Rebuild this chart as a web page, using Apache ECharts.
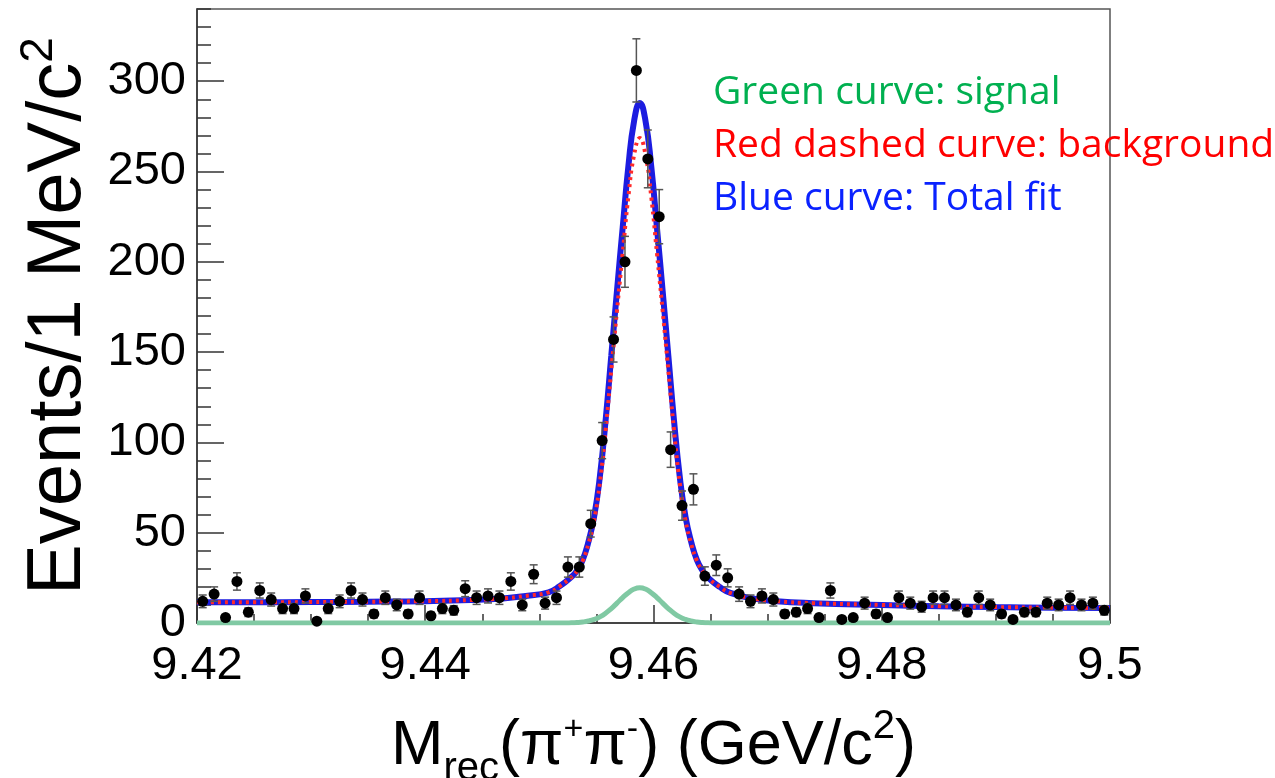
<!DOCTYPE html>
<html>
<head>
<meta charset="utf-8">
<script src="https://cdn.jsdelivr.net/npm/echarts@6/dist/echarts.min.js"></script>
<style>
  html, body { margin: 0; padding: 0; background: #fff; }
  #main { width: 1275px; height: 778px; }
</style>
</head>
<body>
<div id="main"></div>
<script>
// histogram bins (1 MeV wide), bin centres in GeV/c^2
var massBins = [
  9.4205, 9.4215, 9.4225, 9.4235, 9.4245, 9.4255, 9.4265, 9.4275, 9.4285, 9.4295,
  9.4305, 9.4315, 9.4325, 9.4335, 9.4345, 9.4355, 9.4365, 9.4375, 9.4385, 9.4395,
  9.4405, 9.4415, 9.4425, 9.4435, 9.4445, 9.4455, 9.4465, 9.4475, 9.4485, 9.4495,
  9.4505, 9.4515, 9.4525, 9.4535, 9.4545, 9.4555, 9.4565, 9.4575, 9.4585, 9.4595,
  9.4605, 9.4615, 9.4625, 9.4635, 9.4645, 9.4655, 9.4665, 9.4675, 9.4685, 9.4695,
  9.4705, 9.4715, 9.4725, 9.4735, 9.4745, 9.4755, 9.4765, 9.4775, 9.4785, 9.4795,
  9.4805, 9.4815, 9.4825, 9.4835, 9.4845, 9.4855, 9.4865, 9.4875, 9.4885, 9.4895,
  9.4905, 9.4915, 9.4925, 9.4935, 9.4945, 9.4955, 9.4965, 9.4975, 9.4985, 9.4995
];
var counts = [
  12, 16, 3, 23, 6, 18, 13, 8, 8, 15,
  1, 8, 12, 18, 13, 5, 14, 10, 5, 14,
  4, 8, 7, 19, 14, 15, 14, 23, 10, 27,
  11, 14, 31, 31, 55, 101, 157, 200, 306, 257,
  225, 96, 65, 74, 26, 32, 25, 16, 12, 15,
  13, 5, 6, 8, 3, 18, 2, 3, 11, 5,
  3, 14, 11, 9, 14, 14, 10, 6, 14, 10,
  5, 2, 6, 6, 11, 10, 14, 10, 11, 7
];
var errors = [
  3.5, 4, 1.7, 4.8, 2.4, 4.2, 3.6, 2.8, 2.8, 3.9,
  1, 2.8, 3.5, 4.2, 3.6, 2.2, 3.7, 3.2, 2.2, 3.7,
  2, 2.8, 2.6, 4.4, 3.7, 3.9, 3.7, 4.8, 3.2, 5.2,
  3.3, 3.7, 5.6, 5.6, 7.4, 10, 12.5, 14.1, 17.5, 16,
  15, 9.8, 8.1, 8.6, 5.1, 5.7, 5, 4, 3.5, 3.9,
  3.6, 2.2, 2.4, 2.8, 1.7, 4.2, 1.4, 1.7, 3.3, 2.2,
  1.7, 3.7, 3.3, 3, 3.7, 3.7, 3.2, 2.4, 3.7, 3.2,
  2.2, 1.4, 2.4, 2.4, 3.3, 3.2, 3.7, 3.2, 3.3, 2.6
];

// fit curves
var fitMass = [
  9.420, 9.425, 9.430, 9.435, 9.440, 9.4440, 9.4468, 9.4488, 9.4508, 9.4518,
  9.4528, 9.4533, 9.4538, 9.4543, 9.4548, 9.4553, 9.4558, 9.4563, 9.4568, 9.4573,
  9.4578, 9.4583, 9.4588, 9.4593, 9.4598, 9.4603, 9.4608, 9.4613, 9.4618, 9.4623,
  9.4628, 9.4633, 9.4638, 9.4643, 9.4648, 9.4658, 9.4668, 9.4688, 9.4708, 9.474,
  9.480, 9.485, 9.490, 9.495, 9.500
];
var totalFit = [
  11.5, 11.5, 11.6, 11.8, 12.1, 12.7, 13.6, 15.0, 17.0, 20.5,
  25.5, 29, 35, 45, 59, 81, 112, 148, 184, 219,
  253, 278, 288, 278, 253, 219, 184, 148, 112, 81,
  59, 45, 35, 29, 25, 20, 16.5, 13.5, 12, 11,
  10, 9.3, 8.8, 8.5, 8.3
];
var bkgFit = [
  11.5, 11.5, 11.6, 11.8, 12.1, 12.7, 13.6, 15.0, 17.0, 20.5,
  25.4, 28.8, 34.5, 43.9, 57, 77.6, 106.6, 140, 173, 204.9,
  236.2, 259.2, 268.5, 259.2, 236.2, 204.9, 173, 140, 106.6, 77.6,
  57, 43.9, 34.5, 28.8, 24.9, 20, 16.5, 13.5, 12, 11,
  10, 9.3, 8.8, 8.5, 8.3
];
var sigFit = [
  0, 0, 0, 0, 0, 0, 0, 0, 0, 0,
  0.1, 0.25, 0.55, 1.1, 2.0, 3.4, 5.4, 8.0, 11, 14.1,
  16.8, 18.8, 19.5, 18.8, 16.8, 14.1, 11, 8.0, 5.4, 3.4,
  2.0, 1.1, 0.55, 0.25, 0.1, 0, 0, 0, 0, 0,
  0, 0, 0, 0, 0
];

var legendLines = ['Green curve: signal', 'Red dashed curve: background', 'Blue curve: Total fit'];

var pts = [], bars = [], sig = [], bkg = [], tot = [];
for (var i = 0; i < massBins.length; i++) {
  pts.push([massBins[i], counts[i]]);
  bars.push([massBins[i], counts[i], errors[i]]);
}
for (var j = 0; j < fitMass.length; j++) {
  sig.push([fitMass[j], sigFit[j]]);
  bkg.push([fitMass[j], bkgFit[j]]);
  tot.push([fitMass[j], totalFit[j]]);
}

var FONT = '"Liberation Sans", Arial, sans-serif';
var myChart = echarts.init(document.getElementById('main'));

var option = {
  animation: false,
  backgroundColor: '#fff',
  grid: {
    left: 197, right: 165, top: 9, bottom: 155,
    outerBoundsMode: 'none', containLabel: false,
    show: true, borderColor: '#555', borderWidth: 1.5
  },
  xAxis: [{
    type: 'value', min: 9.42, max: 9.5, interval: 0.02,
    axisLine: { show: true, lineStyle: { color: '#333', width: 1.5 } },
    axisTick: { inside: true, length: 18, lineStyle: { color: '#333', width: 1.5 } },
    minorTick: { show: true, splitNumber: 4, length: 9, lineStyle: { color: '#333', width: 1.5 } },
    splitLine: { show: false },
    axisLabel: {
      margin: 20, color: '#000', fontSize: 47, fontFamily: FONT,
      formatter: function (v) { return String(+v.toFixed(2)); }
    },
    name: '{m|M}{sub|rec}{m|(π}{sup|+}{m|π}{sup|-}{m|) (GeV/c}{sup2|2}{m|)}',
    nameLocation: 'middle', nameGap: 82,
    nameTextStyle: {
      color: '#000',
      rich: {
        m: { fontSize: 63, fontFamily: FONT, color: '#000', lineHeight: 84, verticalAlign: 'middle' },
        sub: { fontSize: 40, fontFamily: FONT, color: '#000', lineHeight: 84, verticalAlign: 'bottom' },
        sup: { fontSize: 34, fontFamily: FONT, color: '#000', lineHeight: 84, verticalAlign: 'top', padding: [8, 0, 0, 0] },
        sup2: { fontSize: 40, fontFamily: FONT, color: '#000', lineHeight: 84, verticalAlign: 'top', padding: [2, 0, 0, 0] }
      }
    }
  }],
  yAxis: [{
    type: 'value', min: 0, max: 340, interval: 50,
    axisLine: { show: true, lineStyle: { color: '#333', width: 1.5 } },
    axisTick: { inside: true, length: 27, lineStyle: { color: '#333', width: 1.5 } },
    splitLine: { show: false },
    axisLabel: {
      margin: 11, color: '#000', fontSize: 47, fontFamily: FONT, showMaxLabel: false
    },
    name: '{m|Events/1 MeV/c}{sup|2}',
    nameLocation: 'middle', nameGap: 90, nameRotate: 90,
    nameTextStyle: {
      rich: {
        m: { fontSize: 76, fontFamily: FONT, color: '#000', lineHeight: 84, verticalAlign: 'middle' },
        sup: { fontSize: 46, fontFamily: FONT, color: '#000', lineHeight: 84, verticalAlign: 'top' }
      }
    }
  }, {
    // minor ticks every 10 events
    type: 'value', min: 0, max: 340, interval: 10, position: 'left',
    axisLine: { show: false },
    axisTick: { inside: true, length: 14, lineStyle: { color: '#333', width: 1.5 } },
    axisLabel: { show: false },
    splitLine: { show: false }
  }],
  graphic: legendLines.map(function (t, k) {
    return {
      type: 'text', x: 713, y: 93 + k * 53, z: 100,
      style: {
        text: t, fill: ['#00b050', '#ff0000', '#0a22ff'][k],
        font: '39px "Open Sans", sans-serif',
        align: 'left', verticalAlign: 'middle'
      }
    };
  }),
  series: [{
    name: 'signal', type: 'line', data: sig, showSymbol: false,
    smooth: 0.5, z: 3,
    lineStyle: { color: '#80c9a3', width: 5 }
  }, {
    name: 'total', type: 'line', data: tot, showSymbol: false,
    smooth: 0.5, z: 4,
    lineStyle: { color: '#1c1ce0', width: 6 }
  }, {
    name: 'background', type: 'line', data: bkg, showSymbol: false,
    smooth: 0.5, z: 5,
    lineStyle: { color: '#ff2a2a', width: 4, type: [3, 4] }
  }, {
    name: 'errors', type: 'custom', data: bars, z: 6,
    renderItem: function (params, api) {
      var x = api.value(0), y = api.value(1), e = api.value(2);
      var lo = api.coord([x, y - e]);
      var hi = api.coord([x, y + e]);
      var st = { stroke: '#555', lineWidth: 1.5 };
      return {
        type: 'group',
        children: [
          { type: 'line', shape: { x1: lo[0], y1: lo[1], x2: hi[0], y2: hi[1] }, style: st },
          { type: 'line', shape: { x1: lo[0] - 4, y1: lo[1], x2: lo[0] + 4, y2: lo[1] }, style: st },
          { type: 'line', shape: { x1: hi[0] - 4, y1: hi[1], x2: hi[0] + 4, y2: hi[1] }, style: st }
        ]
      };
    }
  }, {
    name: 'data', type: 'scatter', data: pts, z: 7,
    symbol: 'circle', symbolSize: 11,
    itemStyle: { color: '#000', opacity: 1 }
  }]
};

myChart.setOption(option);
</script>
</body>
</html>
